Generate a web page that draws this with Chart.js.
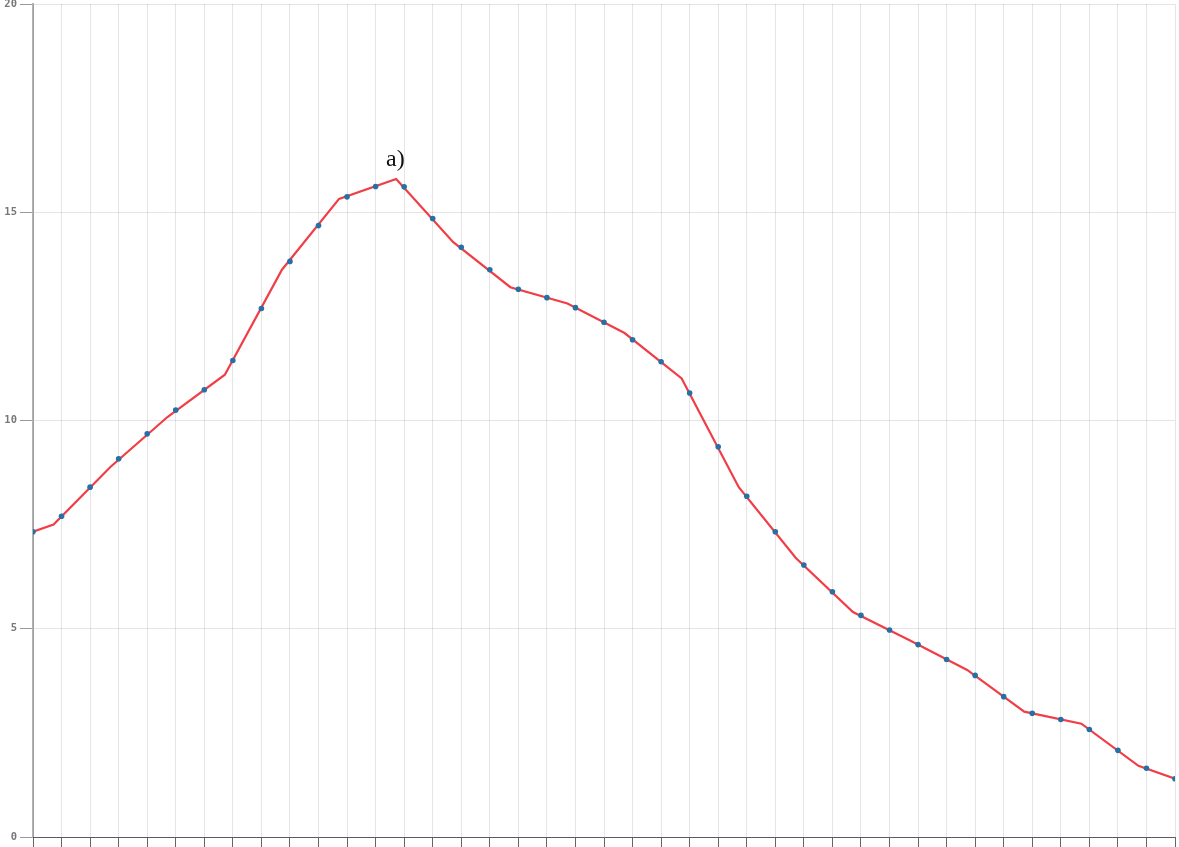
<!DOCTYPE html>
<html>
<head>
<meta charset="utf-8">
<script src="https://cdn.jsdelivr.net/npm/chart.js@4"></script>
<style>
    body { margin: 0; background: #fff; }
    #wrap { position: relative; width: 1179px; height: 847px; overflow: hidden; }
    #note {
        position: absolute; left: 386px; top: 146px;
        font: 24px "Liberation Serif", "Times New Roman", serif;
        line-height: 24px; color: #111;
    }
</style>
</head>
<body>
<div id="wrap">
    <canvas id="chart" width="1179" height="847"></canvas>
    <div id="note">a)</div>
</div>
<script>
// blue sample points, one per grid step
const dotX = [0, 1, 2, 3, 4, 5, 6, 7, 8, 9, 10, 11, 12, 13, 14, 15, 16, 17, 18, 19, 20,
    21, 22, 23, 24, 25, 26, 27, 28, 29, 30, 31, 32, 33, 34, 35, 36, 37, 38, 39, 40];
const dotY = [7.33, 7.70, 8.40, 9.08, 9.68, 10.25, 10.74, 11.44, 12.69, 13.82, 14.68,
    15.37, 15.62, 15.61, 14.85, 14.16, 13.62, 13.15, 12.95, 12.71, 12.36,
    11.94, 11.41, 10.66, 9.37, 8.18, 7.33, 6.53, 5.89, 5.32, 4.97,
    4.62, 4.26, 3.88, 3.37, 2.97, 2.82, 2.58, 2.08, 1.65, 1.40];

// red polyline vertices
const lineX = [0, 0.72, 2.72, 4.72, 6.72, 8.72, 10.72, 12.72, 14.72, 16.72, 18.72,
    20.72, 22.72, 24.72, 26.72, 28.72, 30.72, 32.72, 34.72, 36.72, 38.72, 40];
const lineY = [7.33, 7.50, 8.89, 10.09, 11.10, 13.62, 15.32, 15.80, 14.28, 13.20, 12.81,
    12.10, 11.01, 8.40, 6.70, 5.40, 4.72, 4.01, 3.01, 2.72, 1.71, 1.40];

const yTicks = [0, 5, 10, 15, 20];

function toPoints(xs, ys) {
    return xs.map(function (x, i) {
        return { x: x, y: ys[i] };
    });
}

let ctx = document.getElementById("chart").getContext("2d");

let myChart = new Chart(ctx, {
    type: 'line',
    data: {
        datasets: [{
            label: 'samples',
            data: toPoints(dotX, dotY),
            showLine: false,
            pointRadius: 2.8,
            pointBorderWidth: 0,
            pointBackgroundColor: "rgb(38, 112, 165)",
            pointBorderColor: "rgb(38, 112, 165)"
        }, {
            label: 'curve',
            data: toPoints(lineX, lineY),
            borderColor: "rgba(240, 40, 50, 0.9)",
            borderWidth: 2.2,
            pointRadius: 0,
            fill: false,
            tension: 0
        }]
    },
    options: {
        responsive: false,
        animation: false,
        layout: { padding: { top: 4, right: 2, left: 0, bottom: 0 } },
        plugins: {
            legend: { display: false },
            tooltip: { enabled: false }
        },
        scales: {
            x: {
                type: 'linear',
                min: 0,
                max: 40,
                ticks: { display: false, stepSize: 1 },
                grid: {
                    color: "rgba(0, 0, 0, 0.1)",
                    tickColor: "rgba(0, 0, 0, 0.6)",
                    tickLength: 10
                },
                border: { color: "rgba(0, 0, 0, 0.6)", width: 1 }
            },
            y: {
                min: 0,
                max: 20,
                afterBuildTicks: function (scale) {
                    scale.ticks = yTicks.map(function (v) { return { value: v }; });
                },
                afterFit: function (scale) {
                    scale.width = 33;
                    scale.paddingTop = 0;
                    scale.paddingBottom = 0;
                },
                ticks: {
                    padding: 3,
                    color: "#777",
                    font: { family: "DejaVu Sans Mono", size: 10.5, weight: "bold" }
                },
                grid: {
                    color: "rgba(0, 0, 0, 0.1)",
                    tickColor: "rgba(0, 0, 0, 0.4)",
                    tickLength: 13
                },
                border: { color: "rgba(0, 0, 0, 0.3)", width: 2 }
            }
        }
    }
});
</script>
</body>
</html>
